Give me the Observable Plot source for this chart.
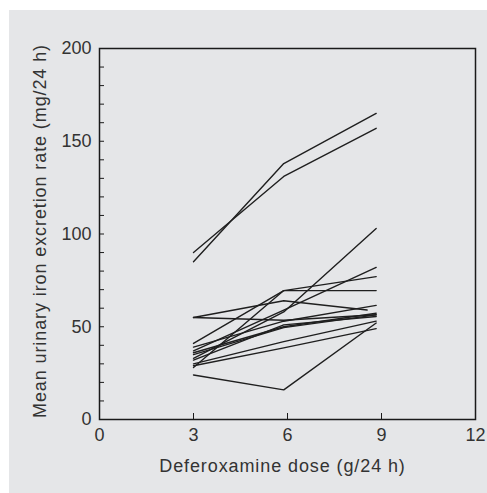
<!DOCTYPE html>
<html>
<head>
<meta charset="utf-8">
<script src="https://cdn.jsdelivr.net/npm/d3@7"></script>
<script src="https://cdn.jsdelivr.net/npm/@observablehq/plot@0.6"></script>
<style>
  html, body { margin: 0; padding: 0; background: #ffffff; }
  #wrap { position: relative; width: 487px; height: 493px; overflow: hidden; }
  #panel { position: absolute; left: 9px; top: 10px; width: 478px; height: 483px; background: #e5e6e8; }
  #chart { position: absolute; left: 0; top: 0; }
  .title text { letter-spacing: 0.9px; }
</style>
</head>
<body>
<div id="wrap"><div id="panel"></div><div id="chart"></div></div>
<script>
// Doses (g/24 h) at which each patient was measured
const doses = [3, 5.88, 8.83];
const dosesShort = [3, 5.88, 8.54];
// Mean urinary iron excretion (mg/24 h), one array per patient
const seriesRates = [
  [85, 138, 165],
  [90, 131, 157],
  [24, 16, 52],
  [55, 64, 59],
  [55, 53.5, 56.5],
  [41, 69.5, 69.5],
  [28, 69.5, 77],
  [33, 58, 103],
  [37, 59, 82],
  [39, 53, 61.5],
  [36, 50, 57.3],
  [35, 49.5, 56.4],
  [32, 51, 55.5],
  [30, 42, 53],
  [29, 38.6, 49]
];
// which series uses the shorter dose set
const seriesDoseSet = seriesRates.map((_, i) => (i === 3 ? dosesShort : doses));

const xTicks = [0, 3, 6, 9, 12];
const xInnerTicks = [3, 6, 9];
const yLabelTicks = [0, 50, 100, 150, 200];
const yMinorTicks = d3.range(10, 200, 10);
const xTitle = "Deferoxamine dose (g/24 h)";
const yTitle = "Mean urinary iron excretion rate (mg/24 h)";

const rows = seriesRates.flatMap((rates, s) =>
  rates.map((r, i) => ({ patient: s, dose: seriesDoseSet[s][i], rate: r }))
);

const textColor = "#333333";
const font = "Liberation Sans, Arial, Helvetica, sans-serif";

const chart = Plot.plot({
  width: 487,
  height: 493,
  marginLeft: 99,
  marginRight: 12,
  marginTop: 48,
  marginBottom: 74,
  style: { background: "transparent", fontFamily: font, fontSize: "18px", color: textColor },
  x: { domain: [0, 12] },
  y: { domain: [0, 200] },
  marks: [
    Plot.frame({ stroke: "#1a1a1a", strokeWidth: 1.5 }),
    Plot.axisY(yMinorTicks, { tickSize: -5, tickFormat: () => "", stroke: "#1a1a1a", label: null }),
    Plot.axisY(yLabelTicks, { tickSize: 0, tickPadding: 8, fill: textColor, fontSize: 18, label: null }),
    Plot.axisX(xInnerTicks, { tickSize: -6, tickFormat: () => "", stroke: "#1a1a1a", label: null }),
    Plot.axisX(xTicks, { tickSize: 0, tickPadding: 9, fill: textColor, fontSize: 18, label: null }),
    Plot.line(rows, { x: "dose", y: "rate", z: "patient", stroke: "#1f1f1f", strokeWidth: 1.4 }),
    Plot.text([xTitle], { frameAnchor: "bottom", dy: 52, dx: -5, text: d => d, fill: textColor, fontSize: 18, className: "title" }),
    Plot.text([yTitle], { frameAnchor: "left", textAnchor: "middle", dx: -59, dy: -3, rotate: -90, text: d => d, fill: textColor, fontSize: 18, className: "title" })
  ]
});
document.getElementById("chart").appendChild(chart);
</script>
</body>
</html>
